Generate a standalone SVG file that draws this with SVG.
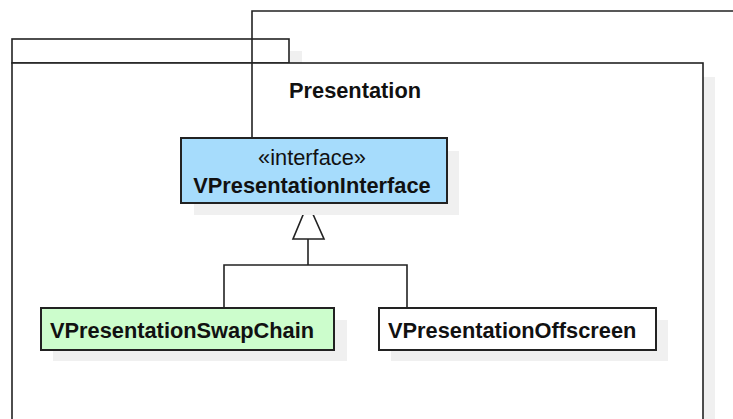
<svg xmlns="http://www.w3.org/2000/svg" width="733" height="419" viewBox="0 0 733 419">
  <defs>
    <style>
      .shadow { fill: #f0f0f0; stroke: none; }
      .pkg { fill: #ffffff; stroke: #222222; stroke-width: 1.6; }
      .cls { stroke: #222222; stroke-width: 2; }
      .edge { fill: none; stroke: #222222; stroke-width: 1.6; }
      .head { fill: #ffffff; stroke: #222222; stroke-width: 1.6; }
      .label { font-family: "Liberation Sans", Arial, sans-serif; font-size: 21.8px; fill: #111111; }
      .bold { font-weight: bold; }
    </style>
  </defs>

  <g id="package-presentation">
    <rect class="shadow" x="290" y="51" width="12" height="13"/>
    <rect class="shadow" x="703" y="77" width="12" height="342"/>
    <rect class="pkg" x="12" y="39" width="277" height="24"/>
    <rect class="pkg" x="12" y="63" width="691" height="370"/>
    <text class="label bold" x="355" y="98" text-anchor="middle">Presentation</text>
  </g>

  <g id="connectors">
    <!-- outgoing link leaving the package at the top -->
    <polyline class="edge" points="252,138 252,11 740,11"/>
    <!-- generalization tree -->
    <polyline class="edge" points="224,308 224,265 407,265 407,308"/>
    <polyline class="edge" points="308,265 308,239"/>
    <path class="head" d="M308,203 L324,239 L293,239 Z"/>
  </g>

  <g id="node-vpresentationinterface">
    <rect class="shadow" x="194" y="151" width="265" height="64"/>
    <rect class="cls" x="181" y="138" width="266" height="65" fill="#a6dcfc"/>
    <text class="label" x="312" y="165" text-anchor="middle" fill="#222">«interface»</text>
    <text class="label bold" x="312" y="193" text-anchor="middle">VPresentationInterface</text>
  </g>

  <g id="node-vpresentationswapchain">
    <rect class="shadow" x="53" y="320" width="294" height="41"/>
    <rect class="cls" x="41" y="308" width="293" height="42" fill="#ccfdcc"/>
    <text class="label bold" x="50" y="338">VPresentationSwapChain</text>
  </g>

  <g id="node-vpresentationoffscreen">
    <rect class="shadow" x="391" y="320" width="277" height="41"/>
    <rect class="cls" x="379" y="308" width="277" height="42" fill="#ffffff"/>
    <text class="label bold" x="388" y="338">VPresentationOffscreen</text>
  </g>
</svg>
